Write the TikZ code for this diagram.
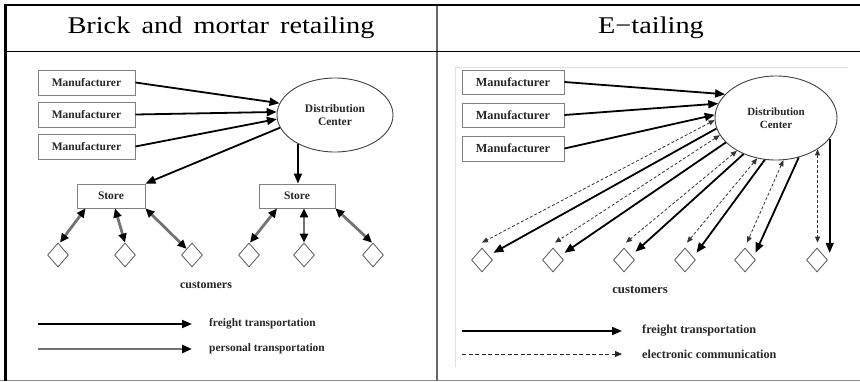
\documentclass[tikz,border=0pt]{standalone}
\usepackage{fontspec}
\setmainfont{Liberation Serif}
\newfontfamily\hdrfont[FakeStretch=1.18]{Liberation Serif}
\usetikzlibrary{shapes.geometric,arrows.meta}
\tikzset{
  box/.style={draw=black!50, line width=0.9pt, inner sep=0pt, text=black!85},
  dce/.style={ellipse, draw=black!75, line width=0.9pt, inner sep=0pt, align=center, text=black!85},
  cust/.style={diamond, draw=black!65, line width=0.8pt, minimum width=21pt, minimum height=24pt, inner sep=0pt},
  fr/.style={line width=1.8pt, draw=black, -{Triangle[length=10pt,width=8pt]}},
  pers/.style={line width=2.8pt, draw=black!55, {Triangle[length=9pt,width=8pt,color=black]}-{Triangle[length=9pt,width=8pt,color=black]}},
  persl/.style={line width=2.8pt, draw=black!55, -{Triangle[length=10pt,width=8pt,color=black]}},
  ec/.style={line width=0.8pt, draw=black!80, dash pattern=on 3pt off 2pt, {Triangle[length=6pt,width=5pt]}-{Triangle[length=6pt,width=5pt]}},
  ecl/.style={line width=0.9pt, draw=black!85, dash pattern=on 4pt off 2.5pt, -{Triangle[length=7pt,width=6pt]}},
  lbl/.style={anchor=west, inner sep=0pt, text=black!85},
  hdr/.style={inner sep=0pt, font=\hdrfont\fontsize{24}{26}\selectfont}
}
\begin{document}
\begin{tikzpicture}[x=1pt,y=-1pt]
\useasboundingbox (0,0) rectangle (860,381);
% table frame
\draw[black!45, line width=1pt] (0,380) -- (860,380);
\draw[black!60, line width=1.4pt] (437,5) -- (437,381);
\draw[black, line width=0.9pt] (5,51) -- (860,51);
\draw[black, line width=2.2pt] (4,5) -- (860,5);
\draw[black, line width=2.2pt] (5.5,4) -- (5.5,381);
\node[hdr] (h1) at (221,28) {Brick\hspace{4pt} and\hspace{4pt} mortar\hspace{4pt} retailing};
\node[hdr] (h2) at (651,28) {E−tailing};

% ---------- left panel ----------
\begin{scope}[font=\fontsize{11.5}{13}\bfseries]
\node[box, minimum width=97pt, minimum height=25pt] (m1) at (86.5,82.5) {Manufacturer};
\node[box, minimum width=97pt, minimum height=25pt] (m2) at (86.5,114.5) {Manufacturer};
\node[box, minimum width=97pt, minimum height=25pt] (m3) at (86.5,146.5) {Manufacturer};
\node[dce, minimum width=116pt, minimum height=74pt] (dc1) at (335,115) {Distribution\\Center};
\node[box, minimum width=68pt, minimum height=24pt] (s1) at (111,196) {Store};
\node[box, minimum width=76pt, minimum height=24pt] (s2) at (297,196) {Store};
\end{scope}
\node[cust] (dl1) at (58,255) {};
\node[cust] (dl2) at (125,255) {};
\node[cust] (dl3) at (192,255) {};
\node[cust] (dl4) at (249,255) {};
\node[cust] (dl5) at (304,255) {};
\node[cust] (dl6) at (373,255) {};
\node[inner sep=0pt, text=black!85, font=\fontsize{12}{13}\bfseries] (cl) at (206,285) {customers};

\draw[fr] (m1.east) -- (dc1.168);
\draw[fr] (m2.east) -- (dc1.177);
\draw[fr] (m3.east) -- (dc1.184);
\draw[fr] (dc1.193) -- (s1.north east);
\draw[fr] (dc1.218) -- (dc1.218 |- s2.north);

\draw[pers] ([xshift=9pt]s1.south west) -- ([xshift=2pt]dl1.north);
\draw[pers] ([xshift=4pt]s1.south) -- (dl2.north);
\draw[pers] (s1.south east) -- (dl3.north west);
\draw[pers] ([xshift=-20pt]s2.south) -- ([xshift=1pt]dl4.north);
\draw[pers] (dl5.north |- s2.south) -- (dl5.north);
\draw[pers] (s2.south east) -- ([xshift=-1pt]dl6.north);

\coordinate (la1) at (38,324);
\coordinate (la2) at (192,324);
\coordinate (lb1) at (38,349);
\coordinate (lb2) at (192,349);
\draw[fr] (la1) -- (la2);
\draw[persl] (lb1) -- (lb2);
\node[lbl, font=\fontsize{11.4}{13}\bfseries] (lt1) at (209,324) {freight transportation};
\node[lbl, font=\fontsize{11.4}{13}\bfseries] (lt2) at (209,349) {personal transportation};

% ---------- right panel ----------
\draw[black!12, line width=0.8pt] (455,367) -- (455,67) -- (848,67);
\begin{scope}[font=\fontsize{12.3}{13}\bfseries]
\node[box, minimum width=102pt, minimum height=24pt] (rm1) at (513,82) {Manufacturer};
\node[box, minimum width=102pt, minimum height=24pt] (rm2) at (513,115) {Manufacturer};
\node[box, minimum width=102pt, minimum height=25pt] (rm3) at (513,148.5) {Manufacturer};
\end{scope}
\node[dce, minimum width=122pt, minimum height=84pt, font=\fontsize{11}{13}\bfseries] (dc2) at (776,118) {Distribution\\Center};
\node[cust] (dr1) at (482,260) {};
\node[cust] (dr2) at (553,260) {};
\node[cust] (dr3) at (624,260) {};
\node[cust] (dr4) at (685,260) {};
\node[cust] (dr5) at (745,260) {};
\node[cust] (dr6) at (817,260) {};
\node[inner sep=0pt, text=black!85, font=\fontsize{12.8}{14}\bfseries] (cr) at (640,290) {customers};

\draw[fr] (rm1.east) -- (dc2.155);
\draw[fr] (rm2.east) -- (dc2.166);
\draw[fr] (rm3.east) -- (dc2.177);

\draw[ec] (dc2.182) -- ([shift={(0pt,5pt)}]dr1.north);
\draw[fr] (dc2.190) -- ([shift={(6pt,1pt)}]dr1.north east);
\draw[ec] (dc2.197) -- ([shift={(2pt,5pt)}]dr2.north);
\draw[fr] (dc2.206) -- ([shift={(6pt,1pt)}]dr2.north east);
\draw[ec] (dc2.220) -- ([shift={(2pt,5pt)}]dr3.north);
\draw[fr] (dc2.228) -- ([shift={(6pt,2pt)}]dr3.north east);
\draw[ec] (dc2.245) -- ([shift={(2pt,5pt)}]dr4.north);
\draw[fr] (dc2.255) -- ([shift={(6pt,1pt)}]dr4.north east);
\draw[ec] (dc2.280) -- ([shift={(2pt,5pt)}]dr5.north);
\draw[fr] (dc2.300) -- ([shift={(5pt,1pt)}]dr5.north east);
\coordinate (t6) at ([yshift=5pt]dr6.north);
\coordinate (e6) at ([shift={(6pt,1pt)}]dr6.north east);
\draw[ec] (dc2.323) -- (dc2.323 |- t6);
\draw[fr] (dc2.339) -- (dc2.339 |- e6);

\coordinate (ra1) at (462,331);
\coordinate (ra2) at (622,331);
\coordinate (rb1) at (462,354);
\coordinate (rb2) at (622,354);
\draw[fr] (ra1) -- (ra2);
\draw[ecl] (rb1) -- (rb2);
\node[lbl, font=\fontsize{12.2}{13}\bfseries] (rt1) at (642,331) {freight transportation};
\node[lbl, font=\fontsize{12.2}{13}\bfseries] (rt2) at (642,354) {electronic communication};
\end{tikzpicture}
\end{document}
